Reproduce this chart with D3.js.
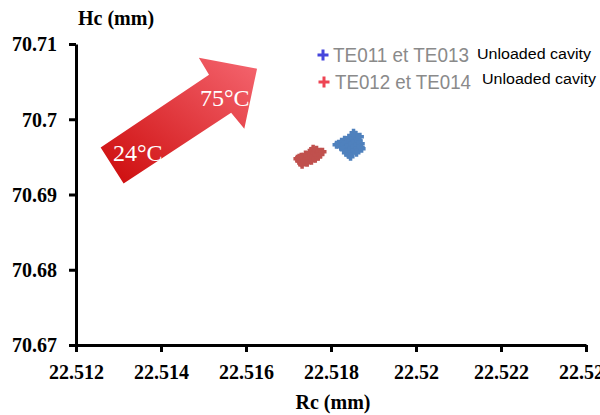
<html lang="en">
<head>
    <meta charset="UTF-8">
    <title>Hc vs Rc</title>
    <script src="https://d3js.org/d3.v7.min.js"></script>
    <style>
        body, html { margin: 0; padding: 0; background: #fff; }
        svg { display: block; }
    </style>
</head>
<body>
<div id="chart"></div>
<script>
    // axis ticks
    const xTicks = [22.512, 22.514, 22.516, 22.518, 22.52, 22.522, 22.524];
    const yTicks = [70.67, 70.68, 70.69, 70.7, 70.71];

    // TE011 et TE013 (blue)
    const blueRc = [22.51818, 22.51825, 22.51832, 22.51842, 22.51851, 22.51858, 22.51823, 22.51830, 22.51837,
        22.51846, 22.51853, 22.51860, 22.51830, 22.51837, 22.51844, 22.51851, 22.51858, 22.51865, 22.51835,
        22.51842, 22.51849, 22.51856, 22.51863, 22.51870, 22.51842, 22.51849, 22.51856, 22.51863, 22.51870,
        22.51853, 22.51868, 22.51872, 22.51813, 22.51846, 22.51860];
    const blueHc = [70.69674, 70.69701, 70.69727, 70.69754, 70.69781, 70.69794, 70.69634, 70.69661, 70.69688,
        70.69714, 70.69741, 70.69754, 70.69595, 70.69621, 70.69648, 70.69674, 70.69701, 70.69714, 70.69555,
        70.69581, 70.69608, 70.69634, 70.69661, 70.69674, 70.69528, 70.69555, 70.69581, 70.69608, 70.69621,
        70.69820, 70.69767, 70.69608, 70.69661, 70.69502, 70.69555];

    // TE012 et TE014 (red)
    const redRc = [22.51721, 22.51725, 22.51730, 22.51732, 22.51730, 22.51735, 22.51740, 22.51744, 22.51740,
        22.51744, 22.51749, 22.51754, 22.51749, 22.51754, 22.51758, 22.51763, 22.51756, 22.51761, 22.51766,
        22.51770, 22.51758, 22.51766, 22.51773, 22.51780, 22.51775, 22.51725, 22.51737];
    const redHc = [70.69476, 70.69450, 70.69423, 70.69397, 70.69503, 70.69476, 70.69450, 70.69423, 70.69530,
        70.69503, 70.69476, 70.69450, 70.69556, 70.69530, 70.69503, 70.69476, 70.69583, 70.69556, 70.69530,
        70.69503, 70.69609, 70.69596, 70.69569, 70.69569, 70.69530, 70.69490, 70.69437];

    // temperature arrow outline, in data units
    const arrowRc = [22.51258, 22.51513, 22.51489, 22.51626, 22.51596, 22.51565, 22.51312];
    const arrowHc = [70.69623, 70.70592, 70.70818, 70.70672, 70.69875, 70.70088, 70.69145];

    const width = 600, height = 415;
    const serif = "'Liberation Serif', 'Times New Roman', serif";
    const x = d3.scaleLinear().domain([22.512, 22.524]).range([76, 586]);
    const y = d3.scaleLinear().domain([70.67, 70.71]).range([345, 44]);

    const svg = d3.select("#chart").append("svg")
        .attr("width", width)
        .attr("height", height);

    // gradient for arrow
    const defs = svg.append("defs");
    const grad = defs.append("linearGradient")
        .attr("id", "arrowGrad")
        .attr("x1", "0%").attr("y1", "100%")
        .attr("x2", "100%").attr("y2", "0%");
    grad.append("stop").attr("offset", "0%").attr("stop-color", "#cc0a0a");
    grad.append("stop").attr("offset", "100%").attr("stop-color", "#f56670");

    // axes
    const xAxis = svg.append("g")
        .attr("transform", `translate(0,${y(70.67)})`)
        .call(d3.axisBottom(x).tickValues(xTicks).tickSize(7).tickSizeOuter(0).tickFormat(d3.format("")));
    const yAxis = svg.append("g")
        .attr("transform", `translate(${x(22.512)},0)`)
        .call(d3.axisLeft(y).tickValues(yTicks).tickSize(7).tickSizeOuter(0).tickFormat(d3.format("")));

    [xAxis, yAxis].forEach(g => {
        g.attr("font-family", serif).attr("font-size", 20).attr("font-weight", "bold");
        g.select(".domain").attr("stroke", "#000").attr("stroke-width", 3);
        g.selectAll(".tick line").attr("stroke", "#000").attr("stroke-width", 3);
        g.selectAll(".tick text").attr("fill", "#000");
    });
    xAxis.selectAll(".tick text").attr("y", 20).attr("dy", "0.71em");
    yAxis.selectAll(".tick text").attr("x", -19).attr("dy", "0.34em");

    svg.append("text")
        .attr("font-family", serif).attr("font-size", 20).attr("font-weight", "bold")
        .attr("x", 78).attr("y", 25).text("Hc (mm)");
    svg.append("text")
        .attr("font-family", serif).attr("font-size", 20).attr("font-weight", "bold")
        .attr("x", 333).attr("y", 409).attr("text-anchor", "middle").text("Rc (mm)");

    // arrow annotation
    const arrowPts = arrowRc.map((v, i) => [x(v), y(arrowHc[i])]);
    svg.append("polygon")
        .attr("points", arrowPts.map(p => p.join(",")).join(" "))
        .attr("fill", "url(#arrowGrad)");
    svg.append("text")
        .attr("x", 113).attr("y", 161)
        .attr("font-family", serif).attr("font-size", 24).attr("fill", "#fff")
        .text("24°C");
    svg.append("text")
        .attr("x", 200).attr("y", 106)
        .attr("font-family", serif).attr("font-size", 24).attr("fill", "#fff")
        .text("75°C");

    // scatter plus markers
    function plusPath(cx, cy, r) {
        return `M${cx - r},${cy}H${cx + r}M${cx},${cy - r}V${cy + r}`;
    }
    const series = [
        { rc: redRc, hc: redHc, color: "#c0504d" },
        { rc: blueRc, hc: blueHc, color: "#4f81bd" }
    ];
    series.forEach(s => {
        svg.append("g").selectAll("path")
            .data(s.rc.map((v, i) => [v, s.hc[i]]))
            .join("path")
            .attr("d", d => plusPath(x(d[0]), y(d[1]), 4))
            .attr("stroke", s.color)
            .attr("stroke-width", 3.5)
            .attr("fill", "none");
    });

    // legend
    const legend = [
        { label: "TE011 et TE013", color: "#4545dc", px: 323, py: 55, tx: 333, ty: 62, ux: 477, uy: 59 },
        { label: "TE012 et TE014", color: "#ee4453", px: 324, py: 82, tx: 335, ty: 89, ux: 482, uy: 84 }
    ];
    legend.forEach(l => {
        svg.append("path")
            .attr("d", plusPath(l.px, l.py, 5.5))
            .attr("stroke", l.color).attr("stroke-width", 3).attr("fill", "none");
        svg.append("text")
            .attr("x", l.tx).attr("y", l.ty)
            .attr("font-family", "Liberation Sans, Arial, sans-serif").attr("font-size", 20)
            .attr("fill", "#8a8a8a")
            .attr("textLength", 136).attr("lengthAdjust", "spacingAndGlyphs")
            .text(l.label);
        svg.append("text")
            .attr("x", l.ux).attr("y", l.uy)
            .attr("font-family", "Liberation Sans, Arial, sans-serif").attr("font-size", 14)
            .attr("fill", "#000")
            .attr("textLength", 114).attr("lengthAdjust", "spacingAndGlyphs")
            .text("Unloaded cavity");
    });
</script>
</body>
</html>
